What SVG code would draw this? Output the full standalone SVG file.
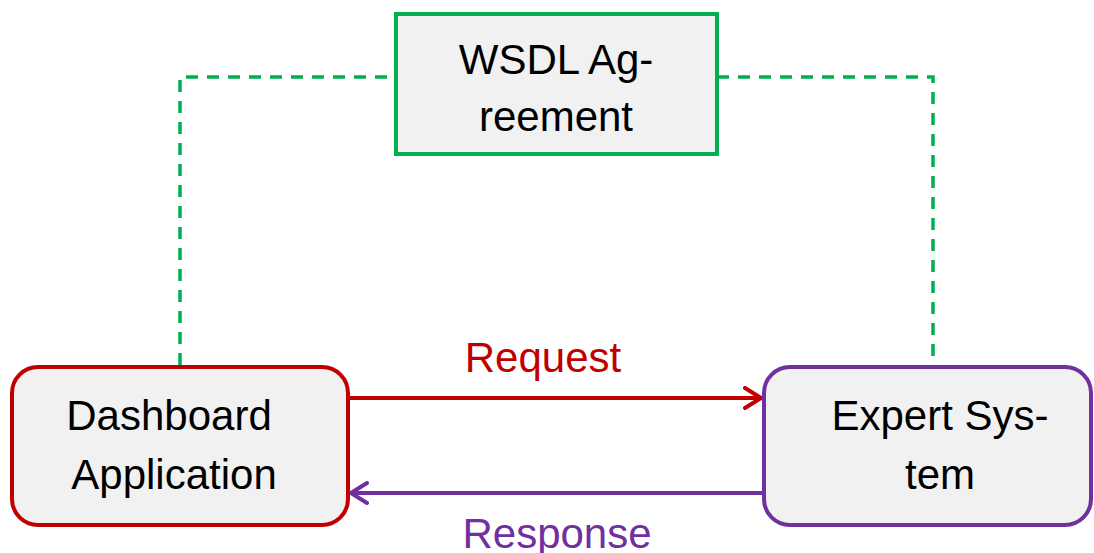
<svg xmlns="http://www.w3.org/2000/svg" width="1094" height="553" viewBox="0 0 1094 553">
  <style>
    .lbl { font-family: "Liberation Sans", Arial, sans-serif; font-size: 42px; fill: #000; text-anchor: middle; }
    .box { fill: #F1F1F1; stroke-width: 4; }
    .dash { fill: none; stroke: #00B050; stroke-width: 3.5; stroke-dasharray: 12 9; }
    .flow { fill: none; stroke-width: 4; }
  </style>
  <defs>
    <marker id="headRed" viewBox="0 0 20 24" refX="18" refY="12" markerWidth="20" markerHeight="24" markerUnits="userSpaceOnUse" orient="auto">
      <polyline points="2,2 18,12 2,22" fill="none" stroke="#C00000" stroke-width="4" stroke-linecap="round" stroke-linejoin="round"/>
    </marker>
    <marker id="headPurple" viewBox="0 0 20 24" refX="18" refY="12" markerWidth="20" markerHeight="24" markerUnits="userSpaceOnUse" orient="auto">
      <polyline points="2,2 18,12 2,22" fill="none" stroke="#7030A0" stroke-width="4" stroke-linecap="round" stroke-linejoin="round"/>
    </marker>
  </defs>

  <!-- connectors -->
  <g id="connectors">
    <path class="dash" d="M180,365 V77 H395"/>
    <path class="dash" d="M717,77 H933 V364"/>
    <line class="flow" stroke="#C00000" x1="348" y1="398" x2="761" y2="398" marker-end="url(#headRed)"/>
    <line class="flow" stroke="#7030A0" x1="765" y1="493" x2="351" y2="493" marker-end="url(#headPurple)"/>
    <text class="lbl" x="543" y="372" fill="#C00000" style="fill:#C00000">Request</text>
    <text class="lbl" x="557" y="548" style="fill:#7030A0">Response</text>
  </g>

  <!-- WSDL agreement -->
  <g id="wsdl">
    <rect class="box" x="396" y="14" width="321" height="140" stroke="#00B050"/>
    <text class="lbl" x="556" y="74">WSDL Ag-</text>
    <text class="lbl" x="556" y="131">reement</text>
  </g>

  <!-- dashboard application -->
  <g id="dashboard">
    <rect class="box" x="12" y="367" width="336" height="158" rx="26" stroke="#C00000"/>
    <text class="lbl" x="169" y="430">Dashboard</text>
    <text class="lbl" x="174" y="489">Application</text>
  </g>

  <!-- expert system -->
  <g id="expert">
    <rect class="box" x="764" y="367" width="327" height="158" rx="26" stroke="#7030A0"/>
    <text class="lbl" x="940" y="430">Expert Sys-</text>
    <text class="lbl" x="940" y="489">tem</text>
  </g>
</svg>
